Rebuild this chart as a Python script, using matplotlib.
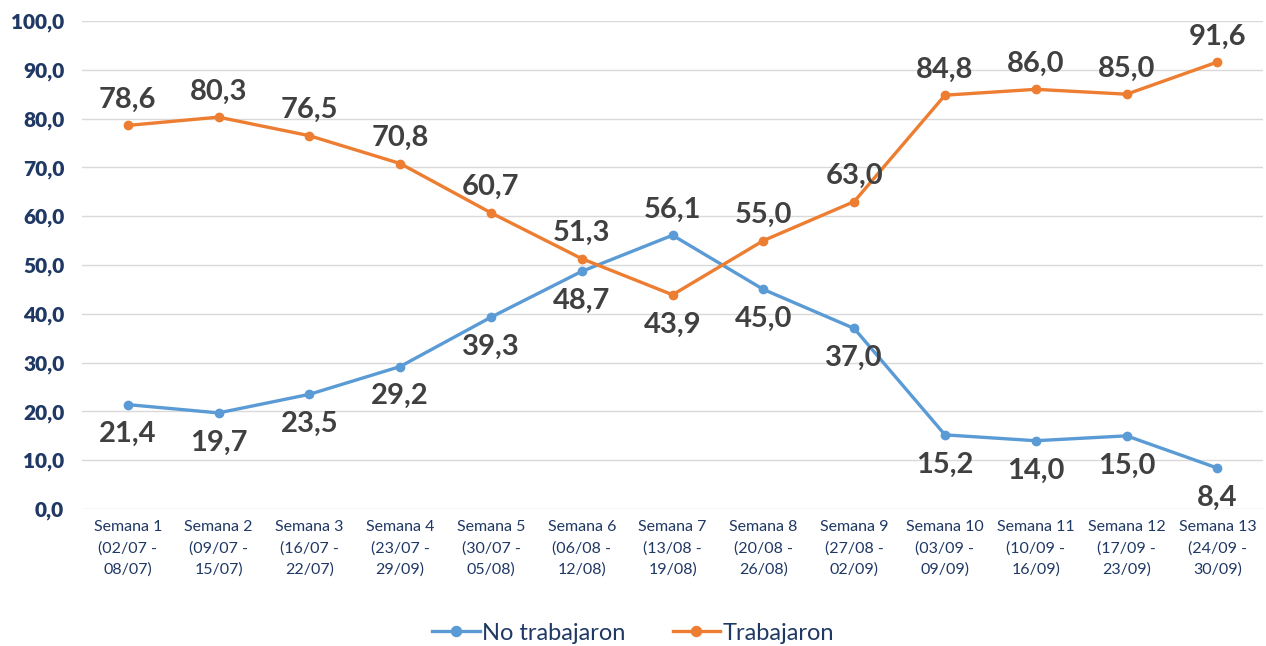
import matplotlib.pyplot as plt
import matplotlib.ticker as mtick

semanas = ['Semana 1\n(02/07 -\n08/07)', 'Semana 2\n(09/07 -\n15/07)', 'Semana 3\n(16/07 -\n22/07)',
           'Semana 4\n(23/07 -\n29/09)', 'Semana 5\n(30/07 -\n05/08)', 'Semana 6\n(06/08 -\n12/08)',
           'Semana 7\n(13/08 -\n19/08)', 'Semana 8\n(20/08 -\n26/08)', 'Semana 9\n(27/08 -\n02/09)',
           'Semana 10\n(03/09 -\n09/09)', 'Semana 11\n(10/09 -\n16/09)', 'Semana 12\n(17/09 -\n23/09)',
           'Semana 13\n(24/09 -\n30/09)']
no_trabajaron = [21.4, 19.7, 23.5, 29.2, 39.3, 48.7, 56.1, 45.0, 37.0, 15.2, 14.0, 15.0, 8.4]
trabajaron = [78.6, 80.3, 76.5, 70.8, 60.7, 51.3, 43.9, 55.0, 63.0, 84.8, 86.0, 85.0, 91.6]

BLUE = '#5B9BD5'
ORANGE = '#ED7D31'
NAVY = '#1F3864'
FONT = ['Lato', 'DejaVu Sans']

plt.rcParams['font.family'] = FONT

fig = plt.figure(figsize=(12.66, 6.46), dpi=100)
ax = fig.add_axes([0.065, 0.212, 0.9325, 0.7555])

x = list(range(len(semanas)))
ax.plot(x, no_trabajaron, color=BLUE, linewidth=2.4, marker='o', markersize=6, label='No trabajaron')
ax.plot(x, trabajaron, color=ORANGE, linewidth=2.4, marker='o', markersize=6, label='Trabajaron')

# higher value gets its label above, lower one below
for i in x:
    for val, other in ((no_trabajaron[i], trabajaron[i]), (trabajaron[i], no_trabajaron[i])):
        txt = f'{val:.1f}'.replace('.', ',')
        if val >= other:
            ax.annotate(txt, (i, val), xytext=(0, 9), textcoords='offset points',
                        ha='center', va='bottom', fontsize=21, fontweight='bold', color='#404040')
        else:
            ax.annotate(txt, (i, val), xytext=(0, -12), textcoords='offset points',
                        ha='center', va='top', fontsize=21, fontweight='bold', color='#404040')

ax.set_xlim(-0.5, len(semanas) - 0.5)
ax.set_ylim(0, 100)
ax.set_yticks(range(0, 101, 10))
ax.yaxis.set_major_formatter(mtick.FuncFormatter(lambda v, p: f'{v:.1f}'.replace('.', ',')))
ax.set_xticks(x)
ax.set_xticklabels(semanas, fontsize=11.5, color=NAVY, linespacing=1.6)
for lbl in ax.get_yticklabels():
    lbl.set_fontsize(15)
    lbl.set_fontweight('heavy')
    lbl.set_color(NAVY)
ax.tick_params(axis='both', length=0)
ax.tick_params(axis='x', pad=8)
ax.tick_params(axis='y', pad=13)
ax.grid(axis='y', color='#D9D9D9', linewidth=1)
ax.set_axisbelow(True)
for s in ax.spines.values():
    s.set_visible(False)

fig.legend(loc='center', bbox_to_anchor=(0.5, 0.02), ncol=2, frameon=False,
           fontsize=17, labelcolor=NAVY, handlelength=2.0, columnspacing=2.0, handletextpad=0.1,
           markerscale=1.2)

fig.savefig('out.png', dpi=100)
